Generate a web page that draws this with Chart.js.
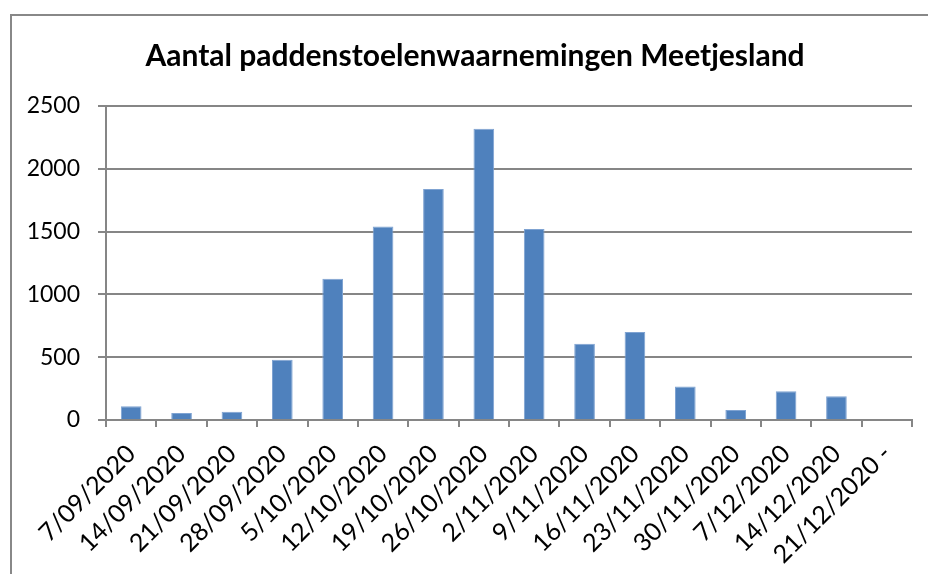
<!DOCTYPE html>
<html>
<head>
<meta charset="utf-8">
<script src="https://cdn.jsdelivr.net/npm/chart.js@4.4.1/dist/chart.umd.min.js"></script>
<style>
  html, body { margin: 0; padding: 0; background: #fff; }
  #wrap { position: relative; width: 928px; height: 574px; }
  #frame { position: absolute; left: 10px; top: 14px; width: 940px; height: 600px;
           border-left: 2px solid #888; border-top: 2px solid #888; box-sizing: border-box; }
  canvas { position: absolute; left: 0; top: 0; }
</style>
</head>
<body>
<div id="wrap">
  <div id="frame"></div>
  <canvas id="myChart" width="928" height="574"></canvas>
</div>
<script>
// weekly counts
const weeks = ["7/09/2020", "14/09/2020", "21/09/2020", "28/09/2020", "5/10/2020",
  "12/10/2020", "19/10/2020", "26/10/2020", "2/11/2020", "9/11/2020", "16/11/2020",
  "23/11/2020", "30/11/2020", "7/12/2020", "14/12/2020", "21/12/2020 -"];
const counts = [109, 56, 66, 480, 1124, 1540, 1839, 2319, 1520, 608, 700, 266, 80, 229, 189, null];
const yTicks = [0, 500, 1000, 1500, 2000, 2500];

const titleText = "Aantal paddenstoelenwaarnemingen Meetjesland";
const fontName = "Lato, 'Open Sans', sans-serif";

// title sits a bit right of the canvas centre in the original
const shiftTitle = {
  id: "shiftTitle",
  afterLayout(chart) {
    if (chart.titleBlock) chart.titleBlock.left += 38;
  }
};

new Chart(document.getElementById("myChart"), {
  type: "bar",
  data: {
    labels: weeks,
    datasets: [{
      data: counts,
      backgroundColor: "#4F81BD",
      borderColor: "#7FA3D2",
      borderWidth: 1,
      categoryPercentage: 1,
      barPercentage: 0.41
    }]
  },
  options: {
    responsive: false,
    animation: false,
    layout: { padding: { left: 0, right: 16, top: 0, bottom: 0 } },
    plugins: {
      legend: { display: false },
      tooltip: { enabled: false },
      title: {
        display: true,
        text: titleText,
        color: "#000",
        font: { family: fontName, size: 30, weight: "bold" },
        padding: { top: 38, bottom: 32 }
      }
    },
    scales: {
      x: {
        grid: { offset: true, drawOnChartArea: false, drawTicks: true, tickLength: 7, color: "#868686", lineWidth: 2 },
        border: { color: "#868686", width: 2 },
        ticks: {
          color: "#000",
          font: { family: fontName, size: 25 },
          maxRotation: 45, minRotation: 45,
          autoSkip: false,
          padding: 12
        },
        afterFit: function (s) { s.height = 154; }
      },
      y: {
        min: 0, max: 2500,
        afterBuildTicks: function (s) { s.ticks = yTicks.map(v => ({ value: v })); },
        grid: { color: "#868686", lineWidth: 2, tickLength: 8 },
        border: { color: "#868686", width: 2 },
        ticks: {
          color: "#000",
          font: { family: fontName, size: 23 },
          padding: 18,
          callback: function (v) { return String(v); }
        },
        afterFit: function (s) { s.width = 106; }
      }
    }
  },
  plugins: [shiftTitle]
});
</script>
</body>
</html>
